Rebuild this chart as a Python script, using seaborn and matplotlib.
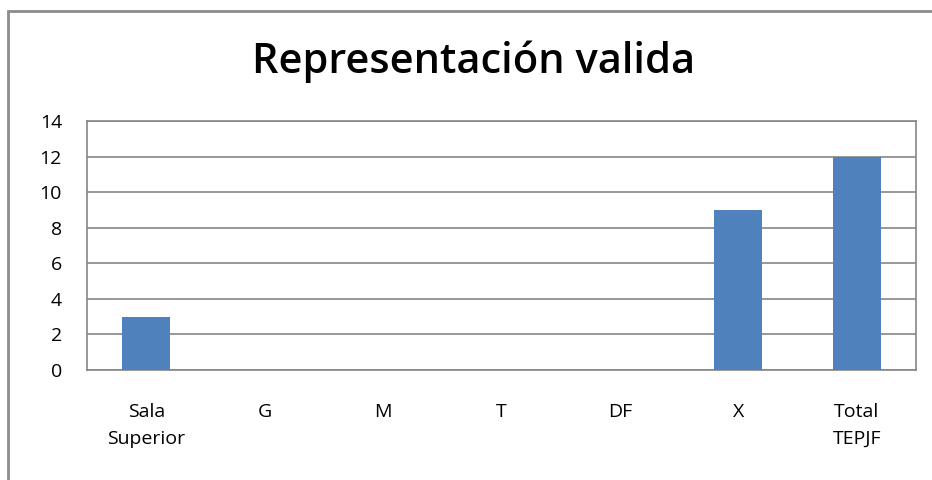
import matplotlib
matplotlib.use('Agg')
import matplotlib.pyplot as plt
import seaborn as sns
import pandas as pd
from matplotlib.patches import Rectangle

# data
categories = ['Sala\nSuperior', 'G', 'M', 'T', 'DF', 'X', 'Total\nTEPJF']
values = [3, 0, 0, 0, 0, 9, 12]
yticks = [0, 2, 4, 6, 8, 10, 12, 14]

df = pd.DataFrame({'category': categories, 'value': values})

sns.set_style('white')
plt.rcParams['font.family'] = ['Open Sans', 'DejaVu Sans']

fig = plt.figure(figsize=(9.32, 4.8), dpi=100)
ax = fig.add_axes([87 / 932, 1 - 370 / 480, (916 - 87) / 932, (370 - 121) / 480])

sns.barplot(data=df, x='category', y='value', color='#4F81BD', width=0.405,
            saturation=1, linewidth=0, edgecolor='none', ax=ax, zorder=3)

ax.set_ylim(0, 14)
ax.set_yticks(yticks)
ax.set_xlim(-0.5, len(categories) - 0.5)
ax.yaxis.grid(True, color='#868686', lw=1.2, zorder=0)
ax.set_axisbelow(True)
for s in ax.spines.values():
    s.set_color('#868686')
    s.set_linewidth(1.2)
ax.tick_params(axis='both', length=0, labelsize=14, colors='#000000')
ax.tick_params(axis='y', pad=18)
ax.tick_params(axis='x', pad=24)
for lbl in ax.get_yticklabels():
    lbl.set_horizontalalignment('right')
for lbl in ax.get_xticklabels():
    lbl.set_linespacing(1.6)
ax.set_xlabel('')
ax.set_ylabel('')

fig.text(474 / 932, 1 - 62 / 480, 'Representación valida', ha='center', va='center',
         fontsize=30, fontweight='semibold', color='#000000',
         family=['Open Sans', 'DejaVu Sans'])

# outer chart border (clipped at right/bottom)
fig.patches.append(Rectangle((8 / 932, -0.1), 1.2, 1 - 11 / 480 + 0.1,
                             transform=fig.transFigure, fill=False,
                             edgecolor='#8c8c8c', lw=2))

fig.savefig('out.png', dpi=100)
